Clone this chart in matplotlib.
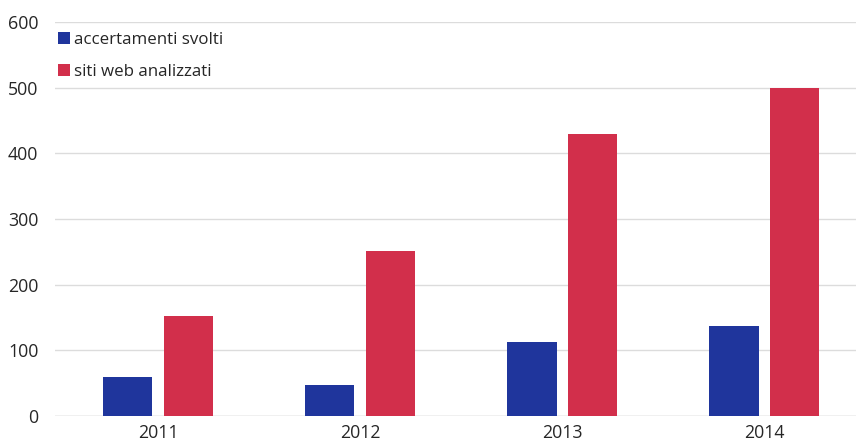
import numpy as np
import matplotlib.pyplot as plt

plt.rcParams['font.family'] = ['Open Sans', 'DejaVu Sans']

# dati
anni = ["2011", "2012", "2013", "2014"]
accertamenti = [60, 47, 112, 137]
siti_web = [153, 252, 429, 500]
y_ticks = [0, 100, 200, 300, 400, 500, 600]

colore_blu = "#1f359c"
colore_rosso = "#d22f4b"
colore_testo = "#262626"

fig = plt.figure(figsize=(8.56, 4.45), dpi=100)
# area del grafico: x 55..856 px, y 22..416 px
ax = fig.add_axes([55 / 856, 29 / 445, 801 / 856, 394 / 445])

x = np.arange(len(anni))
w = 0.245
off = 0.3
ax.bar(x - off / 2, accertamenti, width=w, color=colore_blu, label="accertamenti svolti", zorder=3)
ax.bar(x + off / 2, siti_web, width=w, color=colore_rosso, label="siti web analizzati", zorder=3)

ax.set_xlim(-0.51, 3.455)
ax.set_ylim(0, 600)
ax.set_yticks(y_ticks)
ax.set_xticks(x)
ax.set_xticklabels(anni)
ax.grid(axis="y", color="#dcdcdc", linewidth=1.0, zorder=0)
ax.tick_params(axis="both", length=0, labelsize=12.8, colors=colore_testo)
ax.tick_params(axis="y", pad=12)
ax.tick_params(axis="x", pad=6)
for s in ax.spines.values():
    s.set_visible(False)
ax.axhline(0, color="#d0d0d0", linewidth=1.0, zorder=1)

leg = ax.legend(loc="upper left", bbox_to_anchor=(0.004, 0.975), frameon=False,
                handlelength=0.72, handleheight=0.72, handletextpad=0.2,
                labelspacing=0.95, borderpad=0, borderaxespad=0, fontsize=12.2)
for t in leg.get_texts():
    t.set_color(colore_testo)

fig.savefig("out.png", dpi=100)
